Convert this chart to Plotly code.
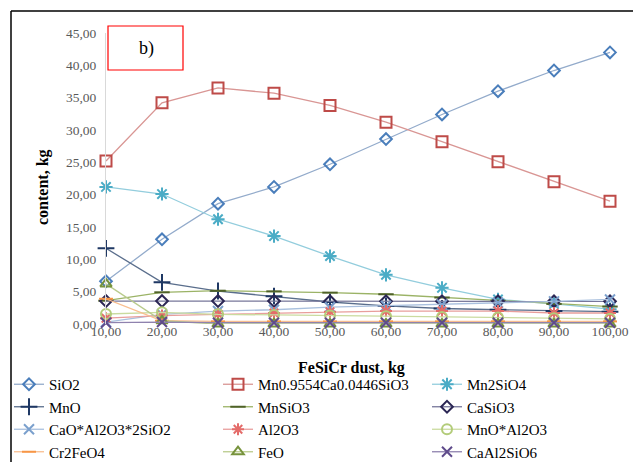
import plotly.graph_objects as go

x_vals = [10, 20, 30, 40, 50, 60, 70, 80, 90, 100]
tick_labels = ["10,00", "20,00", "30,00", "40,00", "50,00", "60,00", "70,00", "80,00", "90,00", "100,00"]
y_ticks = [0, 5, 10, 15, 20, 25, 30, 35, 40, 45]
y_tick_labels = ["0,00", "5,00", "10,00", "15,00", "20,00", "25,00", "30,00", "35,00", "40,00", "45,00"]

sio2 = [6.6, 13.1, 18.6, 21.2, 24.7, 28.6, 32.4, 36.0, 39.2, 42.0]
mn_ca_sio3 = [25.2, 34.2, 36.5, 35.7, 33.8, 31.2, 28.2, 25.1, 22.0, 19.0]
mn2sio4 = [21.2, 20.1, 16.2, 13.6, 10.5, 7.6, 5.6, 3.8, 3.1, 2.3]
mno = [11.7, 6.45, 5.1, 4.3, 3.4, 2.8, 2.4, 2.2, 2.0, 1.9]
mnsio3 = [3.6, 4.9, 5.15, 5.05, 4.85, 4.6, 4.1, 3.6, 3.1, 2.7]
casio3 = [3.55, 3.55, 3.55, 3.55, 3.5, 3.5, 3.5, 3.5, 3.5, 3.5]
cao_al2o3_2sio2 = [0.3, 1.5, 2.0, 2.2, 2.6, 2.8, 3.0, 3.3, 3.5, 3.8]
al2o3 = [0.9, 1.3, 1.5, 1.7, 1.9, 2.0, 2.0, 2.0, 1.7, 1.7]
mno_al2o3 = [1.55, 1.8, 1.5, 1.4, 1.3, 1.2, 1.1, 1.0, 0.9, 0.8]
cr2feo4 = [3.9, 0.5, 0.4, 0.4, 0.4, 0.4, 0.4, 0.4, 0.4, 0.4]
feo = [6.2, 0.5, 0.0, 0.0, 0.0, 0.0, 0.0, 0.0, 0.0, 0.0]
caal2sio6 = [0.2, 0.3, 0.2, 0.2, 0.2, 0.2, 0.2, 0.2, 0.2, 0.2]

series = [
    ("SiO2", sio2, "diamond-open", "#4A7EBB", "#93ABCB", 9),
    ("Mn0.9554Ca0.0446SiO3", mn_ca_sio3, "square-open", "#BE4B48", "#D99694", 11),
    ("Mn2SiO4", mn2sio4, "asterisk-open", "#4BACC6", "#93CDDD", 11),
    ("MnO", mno, "cross-thin-open", "#1F3864", "#5A6E8C", 12),
    ("MnSiO3", mnsio3, "line-ew-open", "#4F6228", "#9BB366", 11),
    ("CaSiO3", casio3, "diamond-open", "#2B2654", "#77779A", 9),
    ("CaO*Al2O3*2SiO2", cao_al2o3_2sio2, "x-thin-open", "#7BA0CD", "#A9C0DE", 10),
    ("Al2O3", al2o3, "asterisk-open", "#E46C6A", "#E89E9C", 10),
    ("MnO*Al2O3", mno_al2o3, "circle-open", "#B3CC7A", "#CADB9F", 10),
    ("Cr2FeO4", cr2feo4, "line-ew-open", "#F79646", "#F9BE8F", 10),
    ("FeO", feo, "triangle-up-open", "#77933C", "#B9CB8C", 10),
    ("CaAl2SiO6", caal2sio6, "x-thin-open", "#5F4B8B", "#8F82AE", 10),
]

fig = go.Figure()
for name, vals, sym, mcol, lcol, size in series:
    fig.add_trace(go.Scatter(
        x=x_vals, y=vals, name=name, mode="lines+markers",
        line=dict(color=lcol, width=1.3),
        marker=dict(symbol=sym, size=size, color=mcol,
                    line=dict(color=mcol, width=2)),
        cliponaxis=False,
    ))

serif = "Liberation Serif"
PW = 525.0  # plot area width in px (x=10 at 106, x=100 at 610)
PH = 291.0  # plot area height in px (y=0 at 324, y=45 at 33)


def px(xp):
    return (xp - 106) / PW


def py(yp):
    return (324 - yp) / PH


fig.update_layout(
    width=633, height=462,
    margin=dict(l=106, r=2, t=33, b=138, autoexpand=False),
    paper_bgcolor="white", plot_bgcolor="white",
    font=dict(family=serif, color="#000000"),
    showlegend=True,
    legend=dict(
        orientation="h", x=px(9), y=py(368), xanchor="left", yanchor="top",
        font=dict(family=serif, size=15, color="#000000"),
        entrywidth=164, entrywidthmode="pixels",
        tracegroupgap=0, itemwidth=30,
        bgcolor="rgba(0,0,0,0)",
    ),
    xaxis=dict(
        range=[10, 103.75], tickmode="array", tickvals=x_vals, ticktext=tick_labels,
        showgrid=False, zeroline=False, showline=False, ticks="",
        tickfont=dict(family=serif, size=13.5, color="#595959"),
    ),
    yaxis=dict(
        range=[0, 45], tickmode="array", tickvals=y_ticks, ticktext=y_tick_labels,
        showgrid=False, zeroline=False, showline=True, linecolor="#D9D9D9", linewidth=1,
        ticks="", tickfont=dict(family=serif, size=13.5, color="#595959"),
        ticklabelstandoff=6,
    ),
    shapes=[
        dict(type="line", xref="paper", yref="paper", x0=px(11), x1=px(11), y0=py(11), y1=py(470),
             line=dict(color="#000", width=1.5)),
        dict(type="line", xref="paper", yref="paper", x0=px(11), x1=px(640), y0=py(11), y1=py(11),
             line=dict(color="#000", width=1.5)),
        dict(type="rect", xref="paper", yref="paper", x0=px(108), x1=px(183),
             y0=py(70), y1=py(26), line=dict(color="#FF0000", width=1.2)),
    ],
    annotations=[
        dict(text="b)", xref="paper", yref="paper", x=px(146), y=py(48),
             xanchor="center", yanchor="middle",
             showarrow=False, font=dict(family=serif, size=18, color="#000")),
        dict(text="<b>content, kg</b>", xref="paper", yref="paper", x=px(43), y=py(187),
             xanchor="center", yanchor="middle",
             textangle=-90, showarrow=False, font=dict(family=serif, size=16, color="#000")),
        dict(text="<b>FeSiCr dust, kg</b>", xref="paper", yref="paper", x=px(351), y=py(368),
             xanchor="center", yanchor="middle",
             showarrow=False, font=dict(family=serif, size=16, color="#000")),
    ],
)

try:
    fig.update_xaxes(ticklabelstandoff=-3)
except ValueError:
    pass

fig.write_html("out.html", config={"displayModeBar": False},
               post_script="document.body.style.margin='0';")
